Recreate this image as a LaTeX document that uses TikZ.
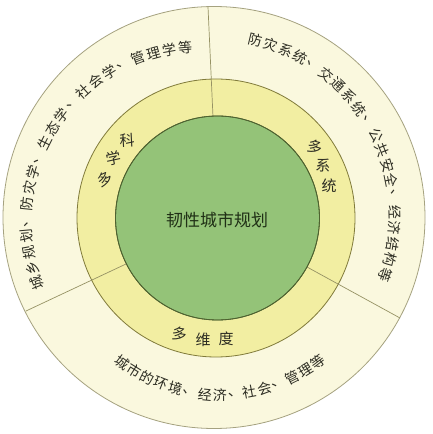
\documentclass[tikz,border=0pt]{standalone}
\usepackage{fontspec}
\newfontfamily\cjk{Noto Sans CJK SC}
\definecolor{outerfill}{RGB}{250,248,222}
\definecolor{outerline}{RGB}{165,162,128}
\definecolor{midfill}{RGB}{242,238,162}
\definecolor{midline}{RGB}{128,122,58}
\definecolor{innerfill}{RGB}{148,195,120}
\definecolor{innerline}{RGB}{78,98,48}
\definecolor{divline}{RGB}{150,146,100}
\definecolor{txt}{RGB}{45,45,35}
\definecolor{ctxt}{RGB}{32,48,22}
\tikzset{
  ring/.style={circle, inner sep=0pt, line width=0.8pt},
  divider/.style={draw=divline, line width=0.7pt},
  chr/.style={inner sep=0pt, text=txt, font=\cjk\fontsize{14}{14}\selectfont},
  midchr/.style={inner sep=0pt, text=txt, font=\cjk\fontsize{15}{15}\selectfont},
}
\begin{document}
\begin{tikzpicture}[x=1pt,y=1pt]
\useasboundingbox (0,0) rectangle (432,434);
\fill[white] (0,0) rectangle (432,434);
% circles
\node[ring, draw=outerline, fill=outerfill, minimum size=422pt] (outer) at (214,216.5) {};
\node[ring, draw=midline, fill=midfill, minimum size=278pt] (mid) at (216,216) {};
\node[ring, draw=innerline, fill=innerfill, minimum size=204pt] (inner) at (217.5,216) {};
% dividers
\coordinate (t1) at (213,317);
\coordinate (t2) at (208,427);
\coordinate (l1) at (126,170);
\coordinate (l2) at (26,123);
\coordinate (r1) at (307,167);
\coordinate (r2) at (400,116);
\draw[divider] (t1) -- (t2);
\draw[divider] (l1) -- (l2);
\draw[divider] (r1) -- (r2);
% redraw inner circle border on top
\draw[innerline, line width=0.8pt] (217.5,216) circle (102);
% center text
\node[inner sep=0pt, text=ctxt, font=\cjk\fontsize{17}{17}\selectfont] (center) at (217,214) {韧性城市规划};
% middle ring labels
\node[midchr, rotate=25] (m1) at (105,255) {多};
\node[midchr, rotate=12] (m2) at (114,276) {学};
\node[midchr, rotate=3] (m3) at (127,294) {科};
\node[midchr, rotate=-15] (m4) at (315,287) {多};
\node[midchr, rotate=-5] (m5) at (323,269) {系};
\node[midchr, rotate=0] (m6) at (329,248) {统};
\node[midchr, rotate=-8] (m7) at (180,100) {多};
\node[midchr] (m8) at (203,94) {维};
\node[midchr] (m9) at (226,95) {度};
% outer upper-left text
\foreach \ch [count=\i from 0] in {城,乡,规,划,、,防,灾,学,、,生,态,学,、,社,会,学,、,管,理,学,等}{
  \pgfmathsetmacro\a{200.9-5.3*\i}
  \node[chr, rotate=\a-90] (ul\i) at ([shift={(\a:174)}]200,213) {\ch};
}
% outer right text
\foreach \ch [count=\i from 0] in {防,灾,系,统,、,交,通,系,统,、,公,共,安,全,、,经,济,结,构,等}{
  \pgfmathsetmacro\a{76.5-5.0*\i}
  \node[chr, rotate=\a-90] (ur\i) at ([shift={(\a:182)}]213,217) {\ch};
}
% outer bottom text
\foreach \ch [count=\i from 0] in {城,市,的,环,境,、,经,济,、,社,会,、,管,理,等}{
  \pgfmathsetmacro\a{232.8+5.31*\i}
  \node[chr, rotate=\a+90] (bt\i) at ([shift={(\a:162)}]220,201) {\ch};
}
\end{tikzpicture}
\end{document}
